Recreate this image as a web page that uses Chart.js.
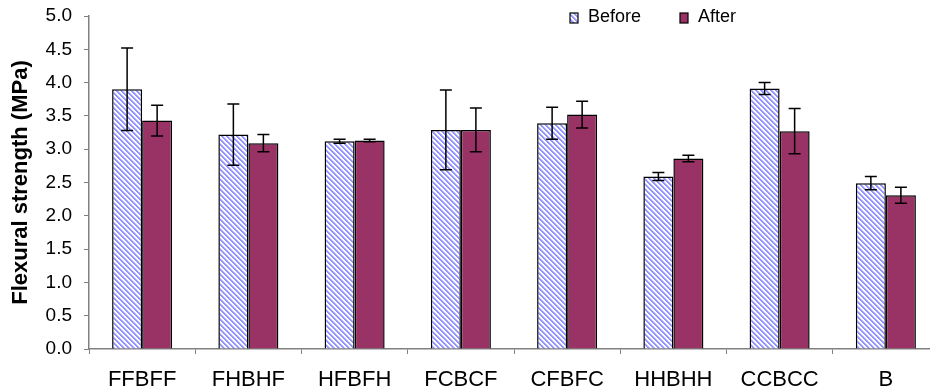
<!DOCTYPE html>
<html>
<head>
<meta charset="utf-8">
<script src="https://cdn.jsdelivr.net/npm/chart.js@4/dist/chart.umd.min.js"></script>
<style>
  html, body { margin: 0; padding: 0; background: #fff; overflow: hidden; }
  #wrap { width: 950px; height: 392px; }
</style>
</head>
<body>
<div id="wrap"><canvas id="strengthChart" width="950" height="392"></canvas></div>
<script>
const categories = ["FFBFF", "FHBHF", "HFBFH", "FCBCF", "CFBFC", "HHBHH", "CCBCC", "B"];
const beforeValues = [3.90, 3.22, 3.12, 3.29, 3.39, 2.59, 3.91, 2.49];
const beforeErrors = [0.62, 0.46, 0.03, 0.60, 0.24, 0.06, 0.09, 0.10];
const afterValues = [3.43, 3.09, 3.13, 3.29, 3.52, 2.86, 3.27, 2.31];
const afterErrors = [0.23, 0.13, 0.02, 0.33, 0.20, 0.05, 0.34, 0.12];

const FONT = "'Liberation Sans', Arial, sans-serif";
const STRIPE = "#9494ff";
const STRIPE_SOFT = "#c8c8ff";
const PLUM = "#993366";

// pixel hatch "\" like the old excel fill
function makeHatch(ctx) {
  const n = 5;
  const c = document.createElement("canvas");
  c.width = n;
  c.height = n;
  const p = c.getContext("2d");
  p.fillStyle = "#ffffff";
  p.fillRect(0, 0, n, n);
  for (let y = 0; y < n; y++) {
    for (let x = 0; x < n; x++) {
      const d = ((x - y) % n + n) % n;
      if (d === 0 || d === 1) {
        p.fillStyle = STRIPE;
        p.fillRect(x, y, 1, 1);
      } else if (d === 2) {
        p.fillStyle = STRIPE_SOFT;
        p.fillRect(x, y, 1, 1);
      }
    }
  }
  return ctx.createPattern(c, "repeat");
}

const errorBars = {
  id: "errorBars",
  afterDatasetsDraw(chart) {
    const ctx = chart.ctx;
    const yScale = chart.scales.y;
    const errs = [beforeErrors, afterErrors];
    ctx.save();
    ctx.strokeStyle = "#000";
    ctx.lineWidth = 1.5;
    chart.data.datasets.forEach((ds, i) => {
      const meta = chart.getDatasetMeta(i);
      meta.data.forEach((bar, j) => {
        const v = ds.data[j];
        const e = errs[i][j];
        const x = bar.x;
        const yTop = yScale.getPixelForValue(v + e);
        const yBot = yScale.getPixelForValue(v - e);
        ctx.beginPath();
        ctx.moveTo(x, yTop);
        ctx.lineTo(x, yBot);
        ctx.moveTo(x - 6, yTop);
        ctx.lineTo(x + 6, yTop);
        ctx.moveTo(x - 6, yBot);
        ctx.lineTo(x + 6, yBot);
        ctx.stroke();
      });
    });
    ctx.restore();
  }
};

const keyLegend = {
  id: "keyLegend",
  afterDraw(chart) {
    const ctx = chart.ctx;
    const items = [
      { label: "Before", fill: chart.data.datasets[0].backgroundColor, x: 570 },
      { label: "After", fill: chart.data.datasets[1].backgroundColor, x: 680 }
    ];
    ctx.save();
    ctx.font = "18px " + FONT;
    ctx.textBaseline = "middle";
    items.forEach(it => {
      ctx.fillStyle = it.fill;
      ctx.fillRect(it.x, 13, 8, 10);
      ctx.strokeStyle = "#000";
      ctx.lineWidth = 1.2;
      ctx.strokeRect(it.x, 13, 8, 10);
      ctx.fillStyle = "#000";
      ctx.fillText(it.label, it.x + 18, 17);
    });
    ctx.restore();
  }
};

const ctx = document.getElementById("strengthChart").getContext("2d");
const hatch = makeHatch(ctx);

new Chart(ctx, {
  type: "bar",
  data: {
    labels: categories,
    datasets: [
      { label: "Before", data: beforeValues, backgroundColor: hatch, borderColor: "#000", borderWidth: 1.5,
        categoryPercentage: 0.565, barPercentage: 1.0 },
      { label: "After", data: afterValues, backgroundColor: PLUM, borderColor: "#000", borderWidth: 1.5,
        categoryPercentage: 0.565, barPercentage: 1.0 }
    ]
  },
  options: {
    responsive: false,
    animation: false,
    layout: { padding: { top: 16, right: 11, left: 0, bottom: 0 } },
    plugins: { legend: { display: false }, tooltip: { enabled: false } },
    scales: {
      x: {
        grid: { display: true, drawOnChartArea: false, offset: true, color: "#808080", tickLength: 5, tickColor: "#808080" },
        border: { color: "#808080", width: 1.5 },
        ticks: { color: "#000", font: { family: FONT, size: 22 }, padding: 13, maxRotation: 0, autoSkip: false },
        afterFit(scale) { scale.height = 43; }
      },
      y: {
        min: 0,
        max: 5,
        ticks: { stepSize: 0.5, color: "#000", font: { family: FONT, size: 19 }, padding: 12,
          callback: v => v.toFixed(1) },
        grid: { display: true, drawOnChartArea: false, color: "#808080", tickLength: 5, tickColor: "#808080" },
        border: { color: "#808080", width: 1.5 },
        title: { display: true, text: "Flexural strength (MPa)", color: "#000",
          font: { family: FONT, size: 22, weight: "bold" }, padding: { top: 8, bottom: 0 } },
        afterFit(scale) {
          scale.width = 89;
          scale.paddingTop = 0;
          scale.paddingBottom = 0;
        }
      }
    }
  },
  plugins: [errorBars, keyLegend]
});
</script>
</body>
</html>
